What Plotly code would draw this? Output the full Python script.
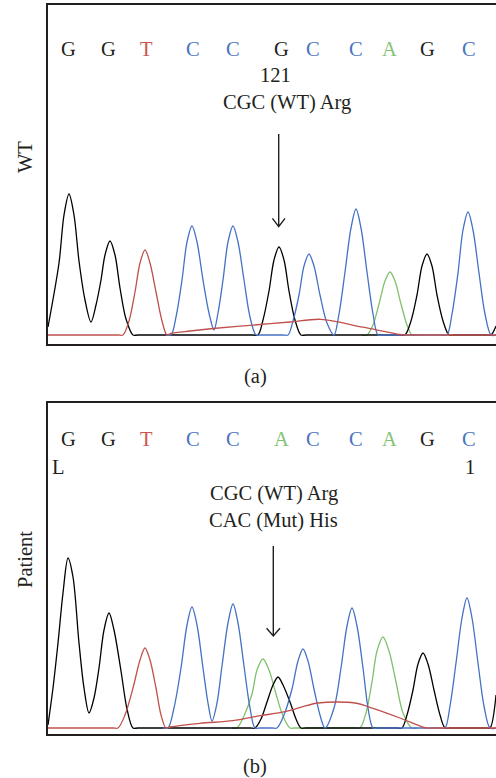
import plotly.graph_objects as go

# ---------------- data ----------------
# base calls
WT_BASES = ["G", "G", "T", "C", "C", "G", "C", "C", "A", "G", "C"]
PT_BASES = ["G", "G", "T", "C", "C", "A", "C", "C", "A", "G", "C"]
BASE_POS = [68.3, 108.3, 146.7, 193.3, 233.3, 281, 312.7, 355.7, 389.3, 427.7, 469.3]

# WT traces: scan position / signal height
WT_BLACK_X = [48, 59, 64, 69, 74, 79, 85, 91, 96, 101, 105, 110, 115, 120, 126, 133, 138,
              253, 258, 263, 269, 274, 279, 284, 289, 295, 301, 306,
              400, 405, 411, 417, 422, 427, 432, 437, 443, 449, 454,
              487, 491, 496]
WT_BLACK_Y = [8, 72, 120, 141, 120, 74, 35, 13, 30, 55, 80, 94, 80, 47, 16, 0, 0,
              0, 0, 15, 44, 75, 88, 75, 44, 15, 0, 0,
              0, 0, 14, 40, 69, 81, 69, 40, 14, 0, 0,
              0, 0, 9]
WT_BLUE_X = [166, 171, 176, 182, 187, 192, 197, 203, 209, 214, 218, 223, 228, 233, 238, 244, 250, 256, 261,
             283, 288, 293, 299, 304, 309, 314, 320, 327, 334, 339, 345, 351, 356, 361, 367, 373, 378, 383,
             442, 447, 452, 458, 463, 468, 473, 479, 485, 491, 496]
WT_BLUE_Y = [0, 0, 18, 55, 93, 109, 93, 55, 22, 5, 22, 55, 93, 109, 93, 55, 18, 0, 0,
             0, 0, 14, 40, 69, 81, 69, 40, 12, 0, 21, 63, 107, 126, 107, 63, 21, 0, 0,
             0, 0, 21, 62, 105, 123, 105, 62, 21, 0, 0]
WT_RED_X = [48, 118, 123, 129, 135, 140, 145, 150, 156, 162, 167, 171, 190, 213, 260, 290, 321, 363, 400, 405, 410, 496]
WT_RED_Y = [0, 0, 0, 14, 43, 72, 85, 72, 43, 14, 0, 1.5, 4, 6.5, 10.5, 13, 15.7, 7.8, 0.5, 0, 0, 0]
WT_GREEN_X = [362, 367, 373, 379, 385, 390, 395, 401, 407, 412, 417]
WT_GREEN_Y = [0, 0, 10, 31, 54, 63, 54, 31, 10, 0, 0]

# Patient traces
PT_BLACK_X = [48, 53, 58, 63, 68, 73, 79, 84, 89, 94, 99, 104, 109, 114, 121, 127, 133, 138,
              250, 255, 261, 267, 273, 278, 283, 290, 296, 301, 306,
              397, 402, 407, 413, 418, 423, 428, 434, 440, 445, 450,
              486, 490, 496]
PT_BLACK_Y = [3, 40, 85, 135, 170, 151, 85, 40, 15, 30, 60, 98, 115, 98, 57, 19, 0, 0,
              0, 0, 9, 26, 43, 51, 43, 26, 9, 0, 0,
              0, 0, 13, 38, 64, 75, 64, 38, 13, 0, 0,
              0, 0, 33]
PT_BLUE_X = [163, 168, 174, 181, 187, 192, 197, 203, 208, 212, 217, 222, 228, 233, 238, 244, 250, 255, 260,
             272, 277, 284, 292, 298, 303, 308, 314, 320, 325, 334, 341, 347, 352, 357, 363, 368, 373, 378,
             440, 445, 450, 456, 462, 467, 472, 478, 484, 490, 496]
PT_BLUE_Y = [0, 0, 20, 60, 103, 121, 103, 60, 25, 7, 25, 62, 105, 124, 105, 62, 20, 0, 0,
             0, 0, 13, 39, 67, 79, 67, 39, 13, 0, 20, 60, 102, 120, 102, 60, 20, 0, 0,
             0, 0, 22, 65, 110, 130, 110, 65, 22, 0, 0]
PT_GREEN_X = [232, 237, 244, 252, 257, 263, 269, 276, 283, 290, 295,
              355, 360, 366, 372, 377, 383, 389, 396, 403, 412, 417]
PT_GREEN_Y = [0, 0, 12, 34, 58, 69, 58, 34, 12, 0, 0,
              0, 0, 15, 46, 77, 91, 77, 46, 15, 0, 0]
PT_RED_X = [48, 113, 118, 125, 133, 140, 145, 150, 156, 161, 166, 170, 200, 233, 260, 285, 318, 355, 373, 400, 424, 427, 432, 496]
PT_RED_Y = [0, 0, 0, 13, 40, 68, 80, 68, 40, 13, 0, 1, 4.7, 7.3, 12.3, 16.3, 25, 25, 19.7, 10, 0.5, 0, 0, 0]

# ---------------- styling ----------------
W, H = 496, 778
FONT = "Liberation Serif"
FS = 20.5
TXT = "#231f20"
TRACE_COL = {"black": "#000000", "blue": "#4472c4", "red": "#c0504d", "green": "#80c06c"}
BASE_COL = {"G": "#231f20", "T": "#cf544e", "C": "#4a74c2", "A": "#86c276"}

def py2paper(py):
    return 1 - py / H

fig = go.Figure()

def add_traces(series, xa, ya):
    for col, xs, ys in series:
        fig.add_trace(go.Scatter(x=xs, y=ys, mode="lines", xaxis=xa, yaxis=ya,
                                 line=dict(color=TRACE_COL[col], width=1.3, shape="spline", smoothing=0.9),
                                 hoverinfo="skip", showlegend=False))

add_traces([("green", WT_GREEN_X, WT_GREEN_Y), ("black", WT_BLACK_X, WT_BLACK_Y),
            ("blue", WT_BLUE_X, WT_BLUE_Y), ("red", WT_RED_X, WT_RED_Y)], "x", "y")
add_traces([("green", PT_GREEN_X, PT_GREEN_Y), ("black", PT_BLACK_X, PT_BLACK_Y),
            ("blue", PT_BLUE_X, PT_BLUE_Y), ("red", PT_RED_X, PT_RED_Y)], "x2", "y2")

ann = []

def txt(x, y, t, xr, yr, color=TXT, angle=0):
    ann.append(dict(x=x, y=y, xref=xr, yref=yr, text=t, showarrow=False, textangle=angle,
                    xanchor="center", yanchor="middle",
                    font=dict(family=FONT, size=FS, color=color)))

# base letters
for b, x in zip(WT_BASES, BASE_POS):
    txt(x, 335 - 49, b, "x", "y", color=BASE_COL[b])
for b, x in zip(PT_BASES, BASE_POS):
    txt(x, 728 - 439, b, "x2", "y2", color=BASE_COL[b])

txt(275.8, 335 - 74.5, "121", "x", "y")
txt(287, 335 - 102, "CGC (WT) Arg", "x", "y")
txt(58.7, 728 - 467.5, "L", "x2", "y2")
txt(470, 728 - 467.5, "1", "x2", "y2")
txt(274, 728 - 494, "CGC (WT) Arg", "x2", "y2")
txt(273.3, 728 - 520.3, "CAC (Mut) His", "x2", "y2")
txt(255 / W, py2paper(376), "(a)", "paper", "paper")
txt(255 / W, py2paper(766.5), "(b)", "paper", "paper")
txt(25 / W, py2paper(157), "WT", "paper", "paper", angle=-90)
txt(25 / W, py2paper(560), "Patient", "paper", "paper", angle=-90)

# arrows (x, top, tip, arm height, arm half-width)
ARROWS = [("x", "y", 278.7, 201, 108.3, 116.7, 6.3), ("x2", "y2", 273.3, 182, 92, 99.7, 6.7)]
shapes = []
for xr, yr, ax, top, tip, arm, hw in ARROWS:
    path = f"M {ax},{top} L {ax},{tip} M {ax-hw},{arm} L {ax},{tip} L {ax+hw},{arm}"
    shapes.append(dict(type="path", path=path, xref=xr, yref=yr,
                       line=dict(color=TXT, width=1.4)))

axis_common = dict(showgrid=False, zeroline=False, showticklabels=False, ticks="",
                   showline=True, linecolor=TXT, linewidth=1.6)

fig.update_layout(
    width=W, height=H, margin=dict(l=0, r=0, t=0, b=0),
    paper_bgcolor="white", plot_bgcolor="white",
    xaxis=dict(domain=[48 / W, 1], range=[48, 496], mirror=True, **axis_common),
    yaxis=dict(domain=[py2paper(344), py2paper(5)], range=[-9, 330], mirror=False, **axis_common),
    xaxis2=dict(domain=[48 / W, 1], range=[48, 496], mirror=True, anchor="y2", **axis_common),
    yaxis2=dict(domain=[py2paper(734), py2paper(403)], range=[-6, 325], mirror=False, anchor="x2", **axis_common),
    annotations=ann, shapes=shapes,
)

fig.write_html("out.html", config={"displayModeBar": False},
               post_script="document.body.style.margin='0px';document.body.style.overflow='hidden';")
